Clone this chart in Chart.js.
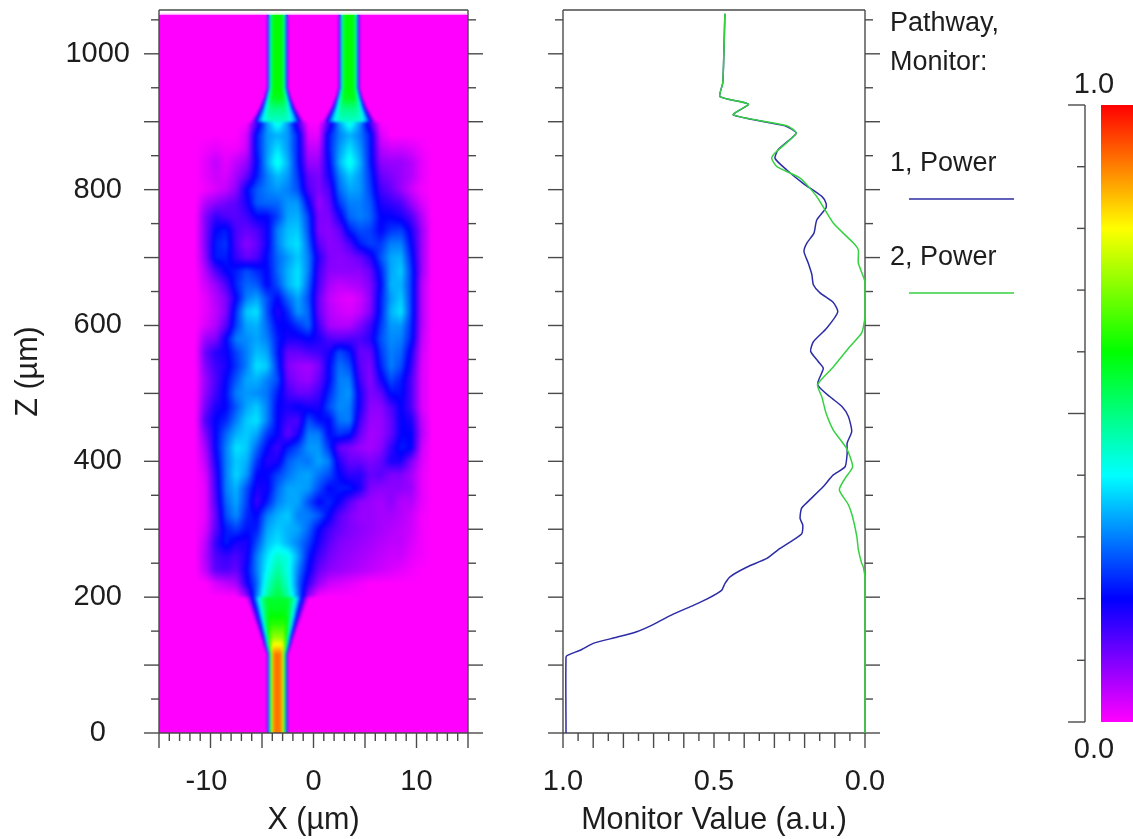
<!DOCTYPE html>
<html>
<head>
<meta charset="utf-8">
<title>Pathway monitor</title>
<script src="https://cdn.jsdelivr.net/npm/chart.js@4"></script>
<style>
  body { margin: 0; background: #fff; overflow: hidden; }
  canvas { position: absolute; top: 0; }
</style>
</head>
<body>
<canvas id="fieldChart" width="520" height="839" style="left:0"></canvas>
<canvas id="monitorChart" width="540" height="839" style="left:500px"></canvas>
<canvas id="scaleChart" width="93" height="839" style="left:1040px"></canvas>
<script>
// monitor curves
const power1Value = [.99,.99,.982,.938,.90,.822,.756,.70,.635,.568,.524,.475,.464,.447,.392,.325,.287,.21,.206,.215,.21,.188,.138,.105,.066,.059,.059,.044,.055,.077,.116,.157,.138,.155,.18,.171,.127,.09,.105,.149,.171,.176,.188,.202,.193,.169,.16,.129,.129,.143,.204,.259,.298,.287,.228,.265,.436,.386,.48,.471,.467,.464];
const power1Z = [0,112,115,123,132,141,149,160,175,188,197,210,220,230,244,257,270,293,306,316,331,341,363,380,392,412,427,444,466,481,495,513,537,547,562,576,596,620,634,648,660,675,692,709,721,736,755,773,780,790,809,829,846,859,883,894,910,926,937,957,1006,1059];
const power2Value = [0,0,.006,.011,.022,.027,.041,.055,.085,.066,.041,.061,.105,.129,.143,.157,.105,.05,.011,0,0,.022,.022,.033,.105,.16,.215,.292,.309,.298,.228,.259,.436,.386,.48,.471,.467,.464];
const power2Z = [0,228,245,250,270,289,318,336,358,375,392,419,446,471,495,513,539,569,589,613,664,692,711,719,751,790,817,834,846,854,883,894,910,926,937,957,1006,1059];

// colour scale
const colorStopValues = [0, .2, .4, .6, .8, 1];
const colorStopRGB = [[255,0,255],[0,0,255],[0,255,255],[0,255,0],[255,255,0],[255,0,0]];

// intensity in percent, x = -10.5 .. 10.5 (1 um apart), z = 200 .. 900 (20 um apart), zero outside
const fieldFirstX = -10.5;
const fieldFirstZ = 200;
const fieldLastZ = 900;
const fieldStepZ = 20;
const fieldRows = [
  [0,0,0,0,8,30,48,56,48,30,8,0,0,0,0,0,0,0,0,0,0,0],
  [0,3,5,7,18,28,44,52,44,28,16,8,4,3,2,1,0,0,0,0,0,0],
  [5,13,14,12,20,30,40,48,42,30,20,12,9,8,7,6,5,4,3,2,1,0],
  [6,14,16,14,18,30,38,44,42,33,22,15,11,9,8,7,6,5,4,4,2,1],
  [5,16,22,18,18,26,35,38,34,30,25,18,13,10,9,8,7,6,5,5,3,1],
  [3,13,22,25,21,22,33,36,34,33,28,20,15,12,10,9,8,7,6,5,4,1],
  [2,12,26,31,23,20,30,34,36,30,30,27,20,13,10,8,8,7,7,6,4,1],
  [2,14,28,33,25,15,22,30,33,33,26,20,23,19,13,9,8,7,9,6,6,2],
  [2,15,30,34,26,18,19,28,33,33,32,26,20,22,22,18,10,9,9,9,8,2],
  [3,16,30,37,32,20,20,25,29,32,33,29,26,20,16,17,12,13,10,10,7,2],
  [5,18,30,36,34,24,17,18,27,30,29,33,30,17,12,12,10,12,18,18,10,3],
  [7,20,30,38,36,28,20,15,22,26,32,32,24,12,10,8,7,9,16,22,20,4],
  [10,20,28,34,36,33,24,20,12,18,30,30,20,24,22,12,7,8,12,20,20,6],
  [14,20,23,30,36,38,30,20,15,14,26,21,20,29,30,15,8,8,12,20,18,5],
  [11,18,20,27,33,36,30,20,18,20,18,18,26,31,30,18,9,9,14,20,14,3],
  [9,15,21,30,32,31,29,22,15,12,12,15,23,30,32,18,10,12,21,21,14,3],
  [8,14,20,27,33,34,30,26,12,9,8,12,20,30,30,15,9,18,26,22,14,3],
  [10,15,18,24,30,38,36,24,10,8,7,10,20,29,26,13,10,22,30,26,16,3],
  [12,17,19,25,30,35,33,22,12,12,14,15,18,26,22,12,12,24,30,28,18,4],
  [8,10,20,30,31,33,30,22,18,18,20,18,14,13,14,14,17,26,31,30,22,5],
  [3,6,13,25,33,34,28,20,20,24,28,15,7,6,6,10,15,24,32,32,23,6],
  [2,5,10,24,36,38,26,17,23,32,28,12,6,4,3,5,10,22,34,38,24,6],
  [2,6,10,20,30,33,26,20,28,33,26,12,5,3,2,4,9,22,32,36,24,6],
  [4,8,14,23,28,27,20,26,34,38,28,14,7,5,6,7,10,20,34,34,24,6],
  [6,14,20,22,26,23,20,28,34,38,30,15,9,9,9,9,12,22,33,36,24,8],
  [9,22,22,16,12,14,21,28,32,36,30,17,10,9,10,12,17,26,33,34,22,8],
  [10,22,24,14,9,12,19,30,36,38,28,13,9,10,14,22,25,24,30,30,20,8],
  [10,20,22,14,12,14,19,30,35,36,26,10,9,12,22,26,25,20,24,25,18,8],
  [10,16,14,13,15,20,20,25,33,34,25,10,10,18,28,30,28,20,20,18,14,6],
  [6,9,11,13,18,27,28,28,32,32,20,8,12,24,30,30,27,18,16,14,8,3],
  [1,3,5,9,20,27,30,32,30,26,14,10,14,28,33,32,25,15,12,8,4,1],
  [2,4,3,7,12,22,30,35,32,24,12,10,18,30,36,32,24,12,10,8,6,2],
  [2,5,2,5,8,20,33,42,34,22,8,8,20,34,42,34,22,9,8,8,6,2],
  [1,2,1,1,4,22,32,38,32,22,5,5,22,32,38,32,22,6,4,4,3,1],
  [0,0,0,0,3,22,32,34,32,22,2,2,22,30,34,30,22,3,0,0,0,0],
  [0,0,0,0,0,14,32,44,32,14,0,0,14,32,44,32,14,0,0,0,0,0]
];

// single-mode guides, sampled finer than the field; offsets in um from the guide centre
const guideOffsets = [0, .35, .55, .75, .9, 1.05];
const inputGuide = [91, 91, 76, 44, 20, 0];
const outputGuide = [60, 60, 55, 40, 20, 0];
const inputCentres = [-3.5];
const outputCentres = [-3.5, 3.45];
const fieldTopZ = 1057;

// the guides opening up towards the field: half width (um) and peak (percent) against z
const inputFlareZ = [116, 130, 140, 160, 180, 200];
const inputFlareWidth = [1.05, 1.4, 1.6, 2.1, 2.6, 3.1];
const inputFlarePeak = [91, 80, 72, 63, 58, 56];
const outputFlareZ = [900, 920, 935, 950];
const outputFlareWidth = [2.6, 1.8, 1.35, 1.05];
const outputFlarePeak = [44, 50, 58, 60];

const legendLabels = ['1, Power', '2, Power'];
const legendHeader = ['Pathway,', 'Monitor:'];
const scaleLabels = [1, 0];

const fontFamily = '"Liberation Sans", Arial, sans-serif';
const tickFontSize = 29;
const titleFontSize = 30.5;
const textColor = '#1d1d1d';
const axisColor = '#4a4a4a';
const blueLine = '#2c2ca6';
const greenLine = '#35d23f';

Chart.defaults.font.family = fontFamily;
Chart.defaults.color = textColor;
Chart.defaults.animation = false;

function colorFor(v) {
  if (v <= 0) return colorStopRGB[0];
  for (let i = 1; i < colorStopValues.length; i++) {
    if (v <= colorStopValues[i]) {
      const t = (v - colorStopValues[i - 1]) / (colorStopValues[i] - colorStopValues[i - 1]);
      const a = colorStopRGB[i - 1], b = colorStopRGB[i];
      return [a[0] + (b[0] - a[0]) * t, a[1] + (b[1] - a[1]) * t, a[2] + (b[2] - a[2]) * t];
    }
  }
  return colorStopRGB[colorStopRGB.length - 1];
}

function guideValue(offset, profile) {
  for (let i = 1; i < guideOffsets.length; i++) {
    if (offset <= guideOffsets[i]) {
      const t = (offset - guideOffsets[i - 1]) / (guideOffsets[i] - guideOffsets[i - 1]);
      return profile[i - 1] + (profile[i] - profile[i - 1]) * t;
    }
  }
  return 0;
}

function nearestOffset(x, centres) {
  return Math.min(...centres.map(c => Math.abs(x - c)));
}

function flareValue(x, z, zs, widths, peaks, profile, centres) {
  let i = 1;
  while (i < zs.length - 1 && z > zs[i]) i++;
  const t = (z - zs[i - 1]) / (zs[i] - zs[i - 1]);
  const halfWidth = widths[i - 1] + (widths[i] - widths[i - 1]) * t;
  const peak = peaks[i - 1] + (peaks[i] - peaks[i - 1]) * t;
  return guideValue(nearestOffset(x, centres) * guideOffsets[guideOffsets.length - 1] / halfWidth, profile) * peak / profile[0];
}

function fieldCell(col, row) {
  const r = fieldRows[row];
  return r && r[col] !== undefined ? r[col] : 0;
}

// value at a plot position, in percent
function fieldValue(x, z) {
  if (z <= inputFlareZ[0]) return guideValue(nearestOffset(x, inputCentres), inputGuide);
  if (z < fieldFirstZ) return flareValue(x, z, inputFlareZ, inputFlareWidth, inputFlarePeak, inputGuide, inputCentres);
  if (z >= outputFlareZ[outputFlareZ.length - 1]) return guideValue(nearestOffset(x, outputCentres), outputGuide);
  if (z > fieldLastZ) return flareValue(x, z, outputFlareZ, outputFlareWidth, outputFlarePeak, outputGuide, outputCentres);
  const cx = x - fieldFirstX;
  const cz = (z - fieldFirstZ) / fieldStepZ;
  const c0 = Math.floor(cx), r0 = Math.floor(cz);
  const tx = cx - c0, tz = cz - r0;
  const low = fieldCell(c0, r0) * (1 - tx) + fieldCell(c0 + 1, r0) * tx;
  const high = fieldCell(c0, r0 + 1) * (1 - tx) + fieldCell(c0 + 1, r0 + 1) * tx;
  return low * (1 - tz) + high * tz;
}

const fieldPlugin = {
  id: 'field',
  beforeDatasetsDraw(chart) {
    const ctx = chart.ctx, area = chart.chartArea;
    const xs = chart.scales.x, ys = chart.scales.y;
    const w = Math.round(area.right - area.left), h = Math.round(area.bottom - area.top);
    const layer = document.createElement('canvas');
    layer.width = w;
    layer.height = h;
    const layerCtx = layer.getContext('2d');
    const image = layerCtx.createImageData(w, h);
    for (let j = 0; j < h; j++) {
      const z = ys.getValueForPixel(area.top + j + .5);
      for (let i = 0; i < w; i++) {
        const k = (j * w + i) * 4;
        if (z > fieldTopZ) { image.data[k + 3] = 0; continue; }
        const c = colorFor(fieldValue(xs.getValueForPixel(area.left + i + .5), z) / 100);
        image.data[k] = c[0]; image.data[k + 1] = c[1]; image.data[k + 2] = c[2]; image.data[k + 3] = 255;
      }
    }
    layerCtx.putImageData(image, 0, 0);
    // sharp copy underneath so the soft copy does not fade at the plot edges
    ctx.save();
    ctx.beginPath();
    ctx.rect(area.left, area.top, w, h);
    ctx.clip();
    ctx.drawImage(layer, area.left, area.top);
    ctx.filter = 'blur(1.5px)';
    ctx.drawImage(layer, area.left, area.top);
    ctx.restore();
  }
};

function stroke(ctx, x1, y1, x2, y2) {
  ctx.beginPath();
  ctx.moveTo(x1, y1);
  ctx.lineTo(x2, y2);
  ctx.stroke();
}

// frame and two-length ticks, taken from the ticks of the scales
const framePlugin = {
  id: 'frame',
  beforeDatasetsDraw(chart, args, opts) {
    const ctx = chart.ctx, a = chart.chartArea;
    ctx.save();
    ctx.strokeStyle = axisColor;
    ctx.lineWidth = 1.4;
    stroke(ctx, a.left, a.top, a.right, a.top);
    stroke(ctx, a.left, a.top, a.left, a.bottom);
    stroke(ctx, a.right, a.top, a.right, a.bottom);
    for (const t of chart.scales.y.ticks) {
      const y = chart.scales.y.getPixelForValue(t.value);
      const len = Math.round(t.value) % 100 === 0 ? 15 : 8;
      stroke(ctx, a.left - len, y, a.left, y);
      stroke(ctx, a.right, y, a.right + len, y);
    }
    stroke(ctx, a.left, a.bottom, a.right, a.bottom);
    for (const t of chart.scales.x.ticks) {
      const x = chart.scales.x.getPixelForValue(t.value);
      const len = Math.abs(t.value / opts.majorStep - Math.round(t.value / opts.majorStep)) < .01 ? 15 : 8;
      stroke(ctx, x, a.bottom, x, a.bottom + len);
    }
    ctx.restore();
  }
};

const legendPlugin = {
  id: 'pathLegend',
  afterDraw(chart) {
    const ctx = chart.ctx, right = chart.chartArea.right;
    ctx.save();
    ctx.font = '27px ' + fontFamily;
    ctx.fillStyle = textColor;
    ctx.textAlign = 'left';
    ctx.textBaseline = 'middle';
    ctx.fillText(legendHeader[0], right + 25, 24);
    ctx.fillText(legendHeader[1], right + 25, 63);
    ctx.fillText(legendLabels[0], right + 25, 164);
    ctx.fillText(legendLabels[1], right + 25, 258);
    ctx.lineWidth = 1.5;
    ctx.strokeStyle = blueLine;
    stroke(ctx, right + 44, 199, right + 149, 199);
    ctx.strokeStyle = greenLine;
    stroke(ctx, right + 44, 293, right + 149, 293);
    ctx.restore();
  }
};

function zAxis(width, showLabels, title) {
  return {
    type: 'linear',
    position: 'left',
    min: 0,
    max: 1064.5,
    afterFit(s) { s.width = width; s.paddingTop = 0; s.paddingBottom = 0; },
    grid: { display: false },
    border: { display: false },
    title: title,
    ticks: {
      display: showLabels,
      stepSize: 50,
      includeBounds: false,
      autoSkip: false,
      maxRotation: 0,
      crossAlign: 'center',
      padding: 21,
      font: { size: tickFontSize },
      color: textColor,
      callback: v => (v % 200 === 0 ? String(v) : '')
    }
  };
}

function bottomTitle(text) {
  return { display: true, text: text, color: textColor, font: { size: titleFontSize }, padding: { top: 0, bottom: 0 } };
}

new Chart(document.querySelector('#fieldChart'), {
  type: 'scatter',
  data: { datasets: [] },
  options: {
    responsive: false,
    layout: { padding: { left: 0, top: 10, right: 52, bottom: 0 } },
    plugins: { legend: { display: false }, tooltip: { enabled: false }, frame: { majorStep: 5 } },
    scales: {
      x: {
        type: 'linear',
        min: -15,
        max: 15,
        afterFit(s) { s.height = 106; s.paddingLeft = 0; s.paddingRight = 0; },
        grid: { display: false },
        border: { display: false },
        title: bottomTitle('X (µm)'),
        ticks: {
          stepSize: 1,
          autoSkip: false,
          maxRotation: 0,
          padding: 24,
          font: { size: tickFontSize },
          color: textColor,
          callback: v => (v % 10 === 0 ? (v < 0 ? v + ' ' : String(v)) : '')
        }
      },
      y: zAxis(159, true, {
        display: true, text: 'Z (µm)', color: textColor,
        font: { size: titleFontSize }, padding: { top: 10, bottom: 0 }
      })
    }
  },
  plugins: [fieldPlugin, framePlugin]
});

function curve(xs, zs) {
  return xs.map((v, i) => ({ x: v, y: zs[i] }));
}

new Chart(document.querySelector('#monitorChart'), {
  type: 'scatter',
  data: {
    datasets: [
      { label: '2, Power', data: curve(power2Value, power2Z), showLine: true, borderColor: greenLine, borderWidth: 1.5, pointRadius: 0, tension: .2, clip: false, order: 1 },
      { label: '1, Power', data: curve(power1Value, power1Z), showLine: true, borderColor: blueLine, borderWidth: 1.5, pointRadius: 0, tension: .2, clip: false, order: 2 }
    ]
  },
  options: {
    responsive: false,
    layout: { padding: { left: 0, top: 10, right: 175, bottom: 0 } },
    plugins: { legend: { display: false }, tooltip: { enabled: false }, frame: { majorStep: .1 } },
    scales: {
      x: {
        type: 'linear',
        reverse: true,
        min: 0,
        max: 1,
        afterFit(s) { s.height = 106; s.paddingLeft = 0; s.paddingRight = 0; },
        grid: { display: false },
        border: { display: false },
        title: bottomTitle('Monitor Value (a.u.)'),
        ticks: {
          stepSize: .05,
          autoSkip: false,
          maxRotation: 0,
          padding: 24,
          font: { size: tickFontSize },
          color: textColor,
          callback: v => (Math.round(v * 100) % 50 === 0 ? v.toFixed(1) : '')
        }
      },
      y: zAxis(63, false, { display: false })
    }
  },
  plugins: [framePlugin, legendPlugin]
});

const scaleAxisPlugin = {
  id: 'scaleAxis',
  afterDraw(chart) {
    const ctx = chart.ctx, a = chart.chartArea, ys = chart.scales.y;
    const axisX = a.left - 16;
    ctx.save();
    ctx.strokeStyle = axisColor;
    ctx.lineWidth = 1.4;
    stroke(ctx, axisX, a.top, axisX, a.bottom);
    for (const t of ys.ticks) {
      const len = Math.round(t.value * 10) % 5 === 0 ? 17 : 8;
      stroke(ctx, axisX - len, ys.getPixelForValue(t.value), axisX, ys.getPixelForValue(t.value));
    }
    ctx.font = tickFontSize + 'px ' + fontFamily;
    ctx.fillStyle = textColor;
    ctx.textAlign = 'center';
    ctx.textBaseline = 'middle';
    for (const v of scaleLabels) {
      ctx.fillText(v.toFixed(1), axisX + 9, ys.getPixelForValue(v) + (v > 0 ? -20 : 28));
    }
    ctx.restore();
  }
};

new Chart(document.querySelector('#scaleChart'), {
  type: 'bar',
  data: {
    labels: ['scale'],
    datasets: [{
      data: [[0, 1]],
      categoryPercentage: 1,
      barPercentage: 1,
      backgroundColor(context) {
        const area = context.chart.chartArea;
        if (!area) return '#fff';
        const g = context.chart.ctx.createLinearGradient(0, area.bottom, 0, area.top);
        colorStopValues.forEach((v, i) => g.addColorStop(v, 'rgb(' + colorStopRGB[i].join(',') + ')'));
        return g;
      }
    }]
  },
  options: {
    responsive: false,
    layout: { padding: { left: 0, top: 105, right: 0, bottom: 117 } },
    plugins: { legend: { display: false }, tooltip: { enabled: false } },
    scales: {
      x: { display: false },
      y: {
        min: 0,
        max: 1,
        afterFit(s) { s.width = 61; },
        grid: { display: false },
        border: { display: false },
        ticks: { stepSize: .1, display: false, autoSkip: false, includeBounds: false }
      }
    }
  },
  plugins: [scaleAxisPlugin]
});
</script>
</body>
</html>
